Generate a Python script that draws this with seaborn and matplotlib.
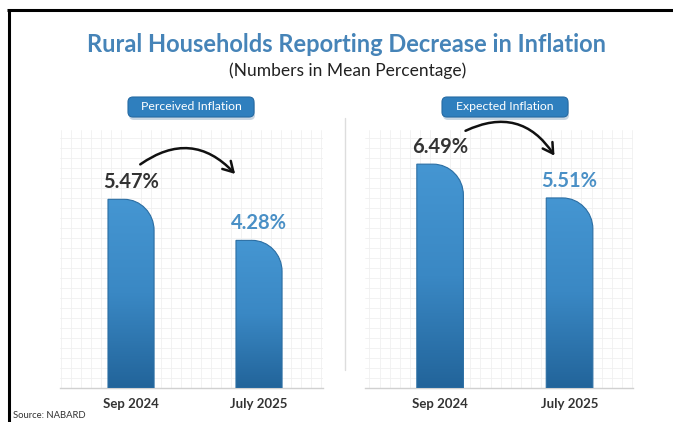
import numpy as np
import pandas as pd
import matplotlib
matplotlib.use("Agg")
import matplotlib.pyplot as plt
import seaborn as sns
from matplotlib.path import Path
from matplotlib.patches import PathPatch, FancyBboxPatch
from matplotlib.colors import LinearSegmentedColormap
from matplotlib.ticker import MultipleLocator

# ---- data ----
periods = ["Sep 2024", "July 2025"]
perceived = [5.47, 4.28]
expected = [6.49, 5.51]
panel_titles = ["Perceived Inflation", "Expected Inflation"]
title = "Rural Households Reporting Decrease in Inflation"
subtitle = "(Numbers in Mean Percentage)"
source = "Source: NABARD"

sns.set_theme(style="white")
plt.rcParams["font.family"] = ["Lato", "DejaVu Sans"]

W, H = 673, 422
fig = plt.figure(figsize=(W / 100, H / 100), dpi=100)
fig.patch.set_facecolor("white")

TITLE_BLUE = "#4684b8"
DARK = "#333333"
LIGHT_BLUE = "#4a90c6"
bar_cmap = LinearSegmentedColormap.from_list("barfill", ["#22649a", "#3a88c4", "#4596d2"])


def px_axes(left, right, top, bottom):
    return fig.add_axes([left / W, 1 - bottom / H, (right - left) / W, (bottom - top) / H])


def rounded_bar_path(x0, w, h, rx, ry):
    k = 0.5523
    cx = x0 + w - rx
    verts = [(x0, 0), (x0, h), (cx, h),
             (cx + k * rx, h), (x0 + w, h - ry + k * ry), (x0 + w, h - ry),
             (x0 + w, 0), (x0, 0)]
    codes = [Path.MOVETO, Path.LINETO, Path.LINETO,
             Path.CURVE4, Path.CURVE4, Path.CURVE4,
             Path.LINETO, Path.CLOSEPOLY]
    return Path(verts, codes)


YMAX = 7.48


def draw_panel(ax, values, xlim):
    df = pd.DataFrame({"period": periods, "value": values})
    sns.barplot(data=df, x="period", y="value", ax=ax, width=0.36,
                color="#3a88c4", zorder=3)
    ax.set_xlim(*xlim)
    ax.set_ylim(0, YMAX)

    # faint background grid
    ax.xaxis.set_minor_locator(MultipleLocator(0.078))
    ax.yaxis.set_minor_locator(MultipleLocator(0.29))
    ax.grid(which="minor", color="#f0f0f0", lw=0.6, zorder=0)
    ax.grid(which="major", visible=False)
    ax.tick_params(which="both", left=False, bottom=False, labelleft=False)
    ax.tick_params(axis="x", labelsize=9.5, colors=DARK, pad=1.5)
    for lab in ax.get_xticklabels():
        lab.set_fontweight("bold")
    ax.set_xlabel("")
    ax.set_ylabel("")
    for s in ["top", "left", "right"]:
        ax.spines[s].set_visible(False)
    ax.spines["bottom"].set_color("#d0d0d0")
    ax.spines["bottom"].set_linewidth(1.0)
    ax.set_facecolor("none")

    # gradient bars with a rounded top-right corner
    for i, p in enumerate(list(ax.patches)):
        x0, w, h = p.get_x(), p.get_width(), p.get_height()
        p.set_visible(False)
        path = rounded_bar_path(x0, w, h, rx=0.65 * w, ry=0.9)
        clip = PathPatch(path, transform=ax.transData, facecolor="none",
                         edgecolor="#2b6ea3", lw=0.8, zorder=4)
        ax.add_patch(clip)
        grad = np.linspace(0, 1, 256).reshape(-1, 1)
        im = ax.imshow(grad, extent=[x0, x0 + w, 0, h], origin="lower",
                       cmap=bar_cmap, aspect="auto", zorder=3)
        im.set_clip_path(clip)
        color = DARK if i == 0 else LIGHT_BLUE
        ax.text(x0 + w / 2, h + 0.2, f"{values[i]:.2f}%", ha="center",
                va="bottom", fontsize=14.5, fontweight="bold", color=color,
                zorder=5)
    ax.set_xlim(*xlim)
    ax.set_ylim(0, YMAX)


ax_left = px_axes(60, 323, 130, 388)
draw_panel(ax_left, perceived, (-0.555, 1.5))
ax_right = px_axes(365, 633, 130, 388)
draw_panel(ax_right, expected, (-0.58, 1.49))

# overlay in pixel coordinates for titles, badges, arrows and frame
ov = fig.add_axes([0, 0, 1, 1], zorder=10)
ov.set_xlim(0, W)
ov.set_ylim(H, 0)
ov.axis("off")
ov.patch.set_visible(False)

ov.text(W / 2 + 10, 45, title, ha="center", va="center", fontsize=17,
        fontweight="bold", color=TITLE_BLUE)
ov.text(W / 2 + 11, 71, subtitle, ha="center", va="center", fontsize=12.5,
        color="#222222")

for cx, label in zip([191, 505], panel_titles):
    bw, bh = 126, 20
    ov.add_patch(FancyBboxPatch((cx - bw / 2 + 1, 98 + 2), bw, bh,
                                boxstyle="round,pad=0,rounding_size=5",
                                facecolor="#c9d6e2", edgecolor="none"))
    ov.add_patch(FancyBboxPatch((cx - bw / 2, 97), bw, bh,
                                boxstyle="round,pad=0,rounding_size=5",
                                facecolor="#2f7fbe", edgecolor="#256aa3", lw=0.8))
    ov.text(cx, 107, label, ha="center", va="center", fontsize=8.8,
            color="white")

# curved arrows between the two periods
for (x0, y0), (x1, y1) in [((138, 166), (237, 176)), ((463, 132), (556, 158))]:
    ov.annotate("", xy=(x1, y1), xytext=(x0, y0),
                arrowprops=dict(arrowstyle="->,head_length=0.6,head_width=0.35",
                                connectionstyle="arc3,rad=-0.45",
                                color="#111111", lw=1.8))

# divider between panels
ov.plot([345, 345], [118, 370], color="#dddddd", lw=1)

# frame
ov.plot([7, W], [10, 10], color="black", lw=2.2, solid_capstyle="butt")
ov.plot([8.5, 8.5], [9, H], color="black", lw=2.2, solid_capstyle="butt")

ov.text(13, 416, source, ha="left", va="center", fontsize=6.8, color=DARK)

fig.savefig("out.png", dpi=100)
